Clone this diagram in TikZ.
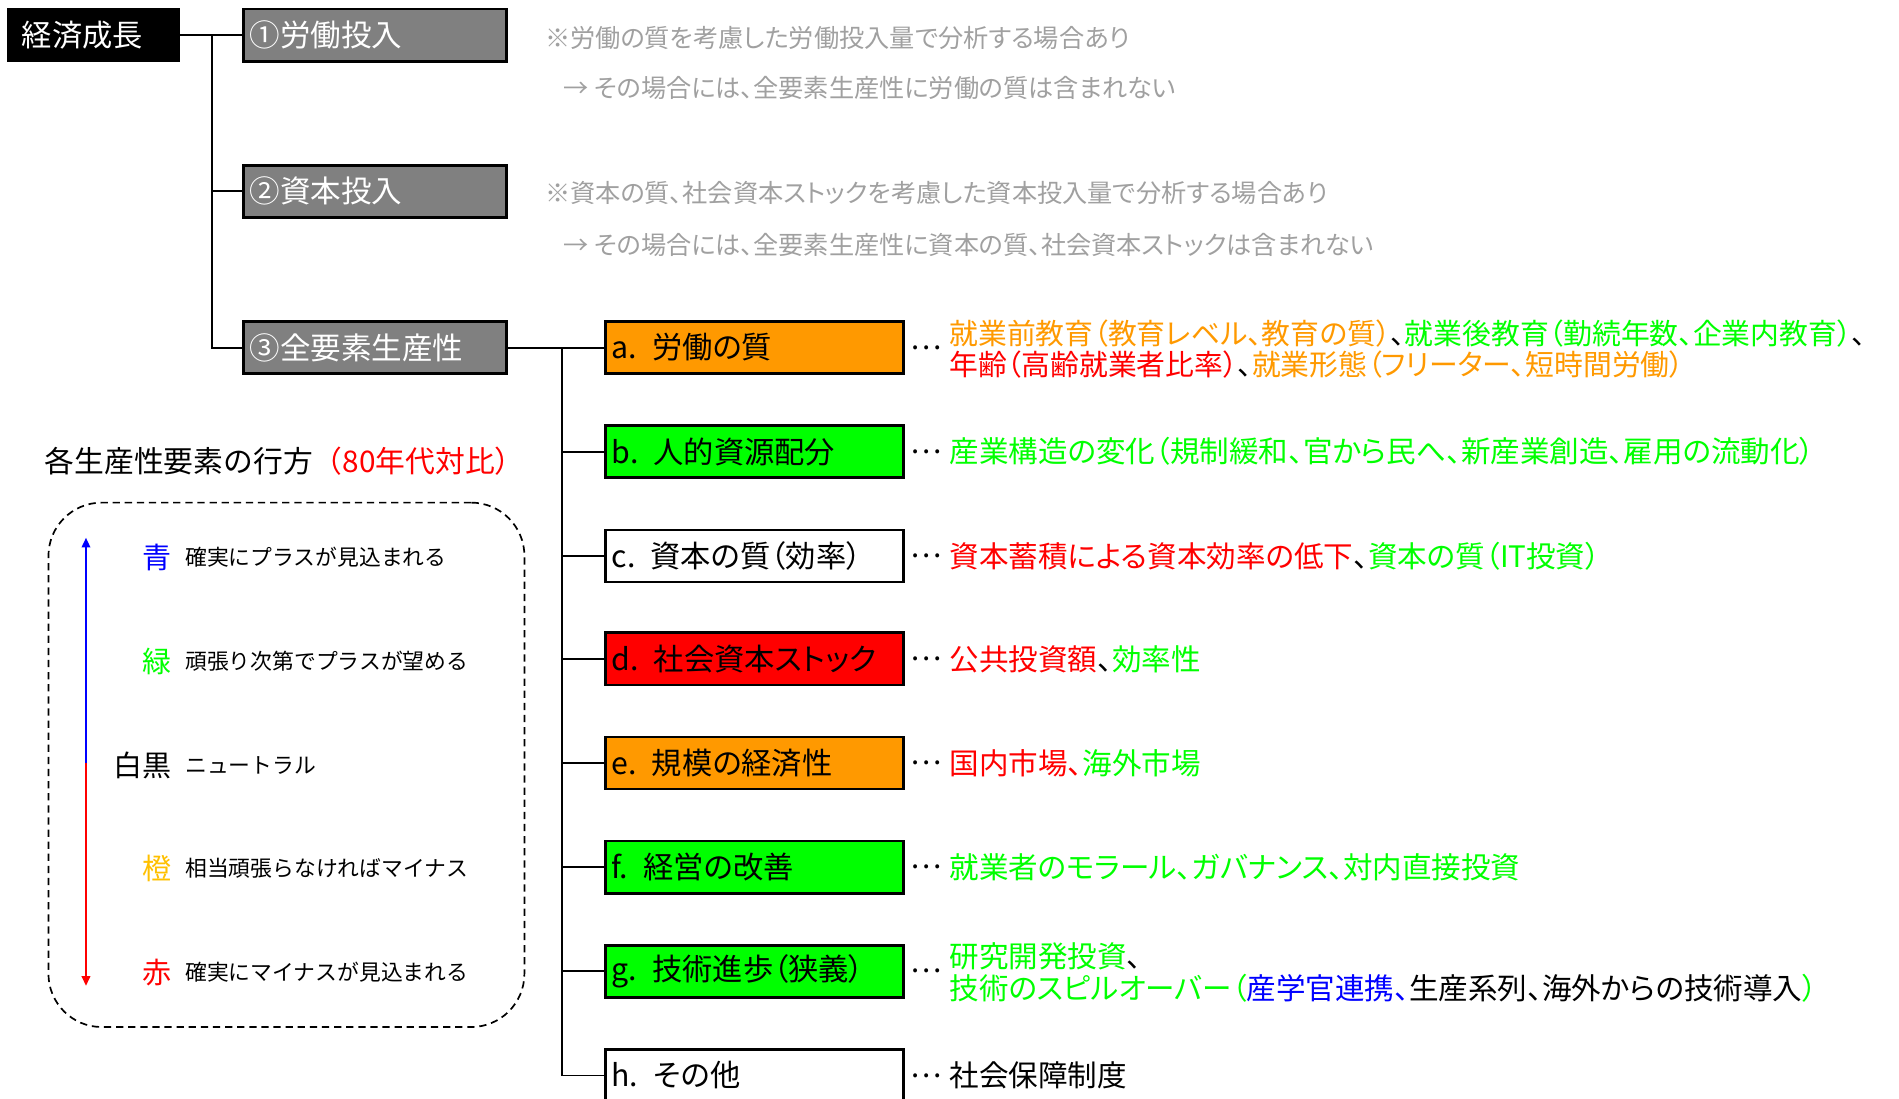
\documentclass[tikz,border=0pt]{standalone}
\usepackage{fontspec}
\setmainfont{Noto Sans CJK JP}[RawFeature={+palt}]
\newfontfamily\legendfont{Noto Sans CJK JP}
\usetikzlibrary{arrows.meta}
\definecolor{boxgray}{RGB}{128,128,128}
\definecolor{notegray}{RGB}{160,160,160}
\definecolor{orng}{RGB}{255,153,0}
\definecolor{gold}{RGB}{255,192,0}
\definecolor{grn}{RGB}{0,255,0}
\definecolor{rd}{RGB}{255,0,0}
\definecolor{bl}{RGB}{0,0,255}
\begin{document}
\begin{tikzpicture}[x=0.5pt,y=-0.5pt,
  every node/.style={inner sep=0pt,outer sep=0pt},
  rootbox/.style={fill=black,text=white,font=\fontsize{12.5}{15}\selectfont,
    inner xsep=6pt,text width=59.5pt,minimum height=22pt,align=left},
  gbox/.style={fill=boxgray,draw=black,line width=1.1pt,text=white,
    font=\fontsize{12.6}{15}\selectfont,inner xsep=2.5pt,text width=103.5pt,
    minimum height=21.5pt,align=left},
  cbox/.style={draw=black,line width=1.1pt,font=\fontsize{12.5}{15}\selectfont,
    inner xsep=2.5pt,text width=118pt,minimum height=21.5pt,align=left},
  note/.style={anchor=west,text=notegray,font=\fontsize{10.4}{12}\selectfont},
  desc/.style={anchor=west,font=\fontsize{12.2}{13}\selectfont,align=left},
  dots/.style={anchor=west,font=\fontsize{12.2}{13}\selectfont},
  conn/.style={line width=0.8pt},
  lkey/.style={anchor=east,font=\legendfont\fontsize{12}{14}\selectfont},
  ldesc/.style={anchor=west,font=\legendfont\fontsize{9}{11}\selectfont},
]
\useasboundingbox (0,0) rectangle (1568,907);

% root and first level
\node[rootbox] (root) at (77.5,29) {経済成長};
\node[gbox] (g1) at (309.5,29) {①労働投入};
\node[gbox] (g2) at (309.5,158) {②資本投入};
\node[gbox] (g3) at (309.5,287) {③全要素生産性};

\node[note] (n1a) at (450,31) {※労働の質を考慮した労働投入量で分析する場合あり};
\node[note] (n1b) at (465,73) {→ その場合には、全要素生産性に労働の質は含まれない};
\node[note] (n2a) at (450,159) {※資本の質、社会資本ストックを考慮した資本投入量で分析する場合あり};
\node[note] (n2b) at (465,202) {→ その場合には、全要素生産性に資本の質、社会資本ストックは含まれない};

\coordinate (tk) at (175,0);
\draw[conn] (root.east) -- (g1.west);
\draw[conn] (tk |- g1.west) |- (g3.west);
\draw[conn] (tk |- g2.west) -- (g2.west);

% second level
\node[cbox,fill=orng] (a) at (623,287) {a. 労働の質};
\node[cbox,fill=grn]  (b) at (623,373) {b. 人的資源配分};
\node[cbox,fill=white] (c) at (623,459) {c. 資本の質（効率）};
\node[cbox,fill=rd]   (d) at (623,544) {d. 社会資本ストック};
\node[cbox,fill=orng] (e) at (623,630) {e. 規模の経済性};
\node[cbox,fill=grn]  (f) at (623,716) {f. 経営の改善};
\node[cbox,fill=grn]  (g) at (623,802) {g. 技術進歩（狭義）};
\node[cbox,fill=white] (h) at (623,888) {h. その他};

\coordinate (tk2) at (464,0);
\draw[conn] (g3.east) -- (a.west);
\draw[line width=0.6pt] (tk2 |- a.west) |- (h.west);
\foreach \n in {b,c,d,e,f,g} \draw[conn] (tk2 |- \n.west) -- (\n.west);

% dots
\foreach \n in {a,b,c,d,e,f,g,h} \node[dots] (dot\n) at ([xshift=3pt]\n.east) {…};

% descriptions
\node[desc,font=\fontsize{11.9}{13}\selectfont] (da) at (784,288) {\textcolor{orng}{就業前教育（教育レベル、教育の質）}、\textcolor{grn}{就業後教育（勤続年数、企業内教育）}、\\
\textcolor{rd}{年齢（高齢就業者比率）}、\textcolor{orng}{就業形態（フリーター、短時間労働）}};
\node[desc] (db) at (784,373) {\textcolor{grn}{産業構造の変化（規制緩和、官から民へ、新産業創造、雇用の流動化）}};
\node[desc] (dc) at (784,459) {\textcolor{rd}{資本蓄積による資本効率の低下}、\textcolor{grn}{資本の質（IT投資）}};
\node[desc] (dd) at (784,544) {\textcolor{rd}{公共投資額}、\textcolor{grn}{効率性}};
\node[desc] (de) at (784,630) {\textcolor{rd}{国内市場、}\textcolor{grn}{海外市場}};
\node[desc] (df) at (784,716) {\textcolor{grn}{就業者のモラール、ガバナンス、対内直接投資}};
\node[desc] (dg) at (784,803) {\textcolor{grn}{研究開発投資}、\\
\textcolor{grn}{技術のスピルオーバー（}\textcolor{bl}{産学官連携、}生産系列、海外からの技術導入\textcolor{grn}{）}};
\node[desc] (dh) at (784,888) {社会保障制度};

% legend
\node[anchor=west,font=\legendfont\fontsize{12.3}{14}\selectfont] (ltitle) at (37,381)
  {各生産性要素の行方\textcolor{rd}{（80年代対比）}};
\node[draw=black,dashed,dash pattern=on 3pt off 2pt,line width=0.7pt,rounded corners=22pt,
  minimum width=196.5pt,minimum height=216.5pt] (lbox) at (236.5,631.5) {};
\coordinate (atop) at (71,444);
\coordinate (amid) at (71,630);
\coordinate (abot) at (71,814);
\draw[bl,line width=0.8pt,-{Triangle[length=4pt,width=3.5pt]}] (amid) -- (atop);
\draw[rd,line width=0.8pt,-{Triangle[length=4pt,width=3.5pt]}] (amid) -- (abot);

\node[lkey,text=bl] (k1) at (142,460) {青};
\node[ldesc] (l1) at (153,460) {確実にプラスが見込まれる};
\node[lkey,text=grn] (k2) at (142,546) {緑};
\node[ldesc] (l2) at (153,546) {頑張り次第でプラスが望める};
\node[lkey] (k3) at (142,632) {白黒};
\node[ldesc] (l3) at (153,632) {ニュートラル};
\node[lkey,text=gold] (k4) at (142,717) {橙};
\node[ldesc] (l4) at (153,717) {相当頑張らなければマイナス};
\node[lkey,text=rd] (k5) at (142,803) {赤};
\node[ldesc] (l5) at (153,803) {確実にマイナスが見込まれる};
\end{tikzpicture}
\end{document}
